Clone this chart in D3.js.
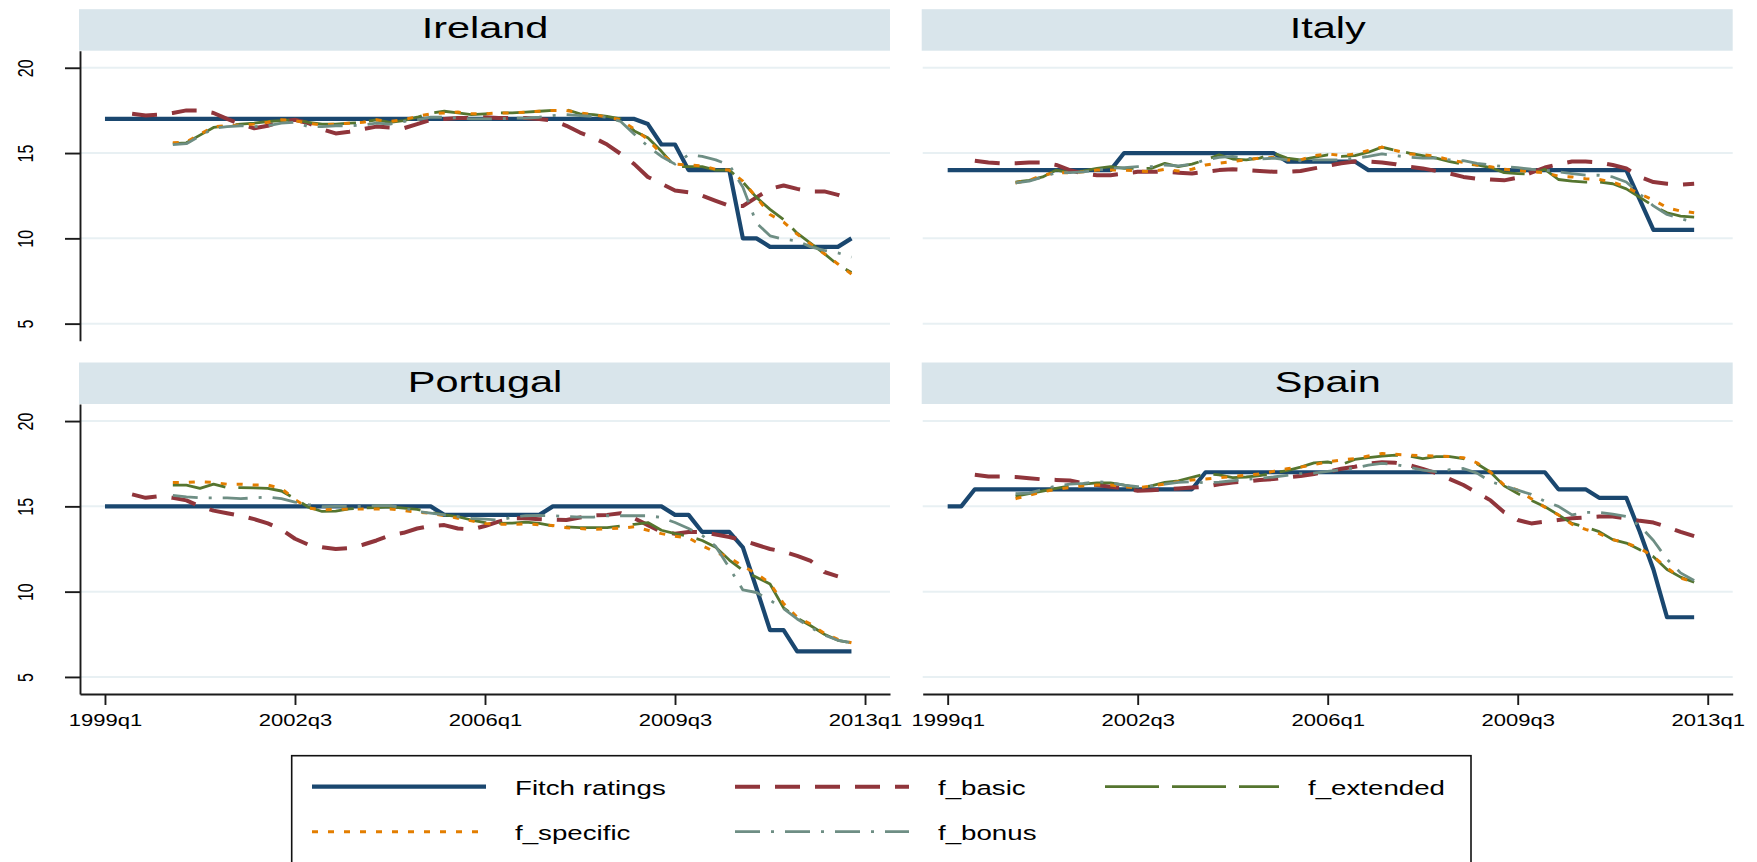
<!DOCTYPE html>
<html>
<head>
<meta charset="utf-8">
<script src="https://cdnjs.cloudflare.com/ajax/libs/d3/7.8.5/d3.min.js"></script>
<style>
  html, body { margin: 0; padding: 0; background: #ffffff; }
  svg { display: block; font-family: "Liberation Sans", Arial, Helvetica, sans-serif; }
</style>
</head>
<body>
<svg id="chart" width="1757" height="862"></svg>
<script>
// ---- data -------------------------------------------------------------
const countries = ["Ireland", "Italy", "Portugal", "Spain"];
const seriesNames = ["Fitch ratings", "f_basic", "f_extended", "f_specific", "f_bonus"];
// quarter index of each series' first observation (0 = 1999q1)
const seriesStart = [0, 2, 5, 5, 5];
const xTickQuarters = [0, 14, 28, 42, 56];
const xTickLabels = ["1999q1", "2002q3", "2006q1", "2009q3", "2013q1"];
const yTickValues = [5, 10, 15, 20];

const irelandFitch = [17, 17, 17, 17, 17, 17, 17, 17, 17, 17, 17, 17, 17, 17, 17, 17, 17, 17, 17, 17,
  17, 17, 17, 17, 17, 17, 17, 17, 17, 17, 17, 17, 17, 17, 17, 17, 17, 17, 17, 17,
  16.7, 15.5, 15.5, 14, 14, 14, 14, 10, 10, 9.5, 9.5, 9.5, 9.5, 9.5, 9.5, 10];
const irelandBasic = [17.3, 17.2, 17.25, 17.35, 17.5, 17.5, 17.35, 17.0, 16.7, 16.45, 16.6, 16.85, 16.95, 16.75,
  16.4, 16.15, 16.25, 16.4, 16.55, 16.5, 16.45, 16.7, 16.95, 17.0, 17.05, 17.05, 17.1, 17.05, 17.05, 17.05,
  17.0, 16.9, 16.6, 16.2, 15.9, 15.5, 14.95, 14.35, 13.6, 13.2, 12.8, 12.7, 12.5, 12.2, 11.9, 11.9, 12.4,
  12.9, 13.1, 12.9, 12.75, 12.75, 12.55, 12.25];
const irelandExtended = [15.55, 15.6, 16.05, 16.5, 16.6, 16.7, 16.75, 16.85, 16.9, 16.95, 16.8, 16.7, 16.7, 16.75,
  16.8, 16.95, 16.8, 16.9, 17.1, 17.35, 17.45, 17.35, 17.25, 17.3, 17.35, 17.35, 17.4, 17.45, 17.5, 17.55,
  17.3, 17.25, 17.15, 17.0, 16.3, 15.9, 15.1, 14.2, 14.2, 14.2, 14.0, 14.0, 13.3, 12.4, 11.7, 11.1, 10.3,
  9.7, 9.1, 8.45, 8.0];
const irelandSpecific = [15.6, 15.65, 16.1, 16.55, 16.6, 16.65, 16.7, 16.8, 16.95, 16.9, 16.75, 16.65, 16.7, 16.75,
  16.8, 16.95, 16.85, 16.95, 17.15, 17.3, 17.35, 17.4, 17.3, 17.3, 17.35, 17.35, 17.4, 17.45, 17.5, 17.5,
  17.35, 17.25, 17.1, 16.95, 16.4, 15.8, 14.95, 14.35, 14.3, 14.25, 14.05, 14.0, 13.35, 12.4, 11.4, 10.95,
  10.25, 9.65, 9.1, 8.5, 7.9];
const irelandBonus = [15.5, 15.55, 16.0, 16.45, 16.55, 16.6, 16.55, 16.6, 16.75, 16.8, 16.55, 16.55, 16.6, 16.6,
  16.65, 16.75, 16.7, 16.85, 16.95, 17.1, 17.1, 17.05, 17.0, 17.0, 17.0, 17.05, 17.05, 17.1, 17.2, 17.25,
  17.2, 17.15, 17.1, 16.85, 16.1, 15.4, 14.8, 14.35, 14.9, 14.8, 14.6, 14.3, 13.0, 10.9, 10.15, 9.95, 9.85,
  9.5, 9.3, 9.15, 8.9];

const italyFitch = [14, 14, 14, 14, 14, 14, 14, 14, 14, 14, 14, 14, 14,
  15, 15, 15, 15, 15, 15, 15, 15, 15, 15, 15, 15,
  14.5, 14.5, 14.5, 14.5, 14.5, 14.5,
  14, 14, 14, 14, 14, 14, 14, 14, 14, 14, 14, 14, 14, 14, 14, 14, 14, 14, 14, 14,
  12.25, 10.5, 10.5, 10.5, 10.5];
const italyBasic = [14.55, 14.45, 14.4, 14.4, 14.45, 14.45, 14.3, 14.0, 13.8, 13.7, 13.7, 13.8, 13.9, 13.9, 13.9,
  13.85, 13.8, 13.9, 14.0, 14.05, 14.0, 13.95, 13.9, 13.9, 13.95, 14.1, 14.25, 14.4, 14.5, 14.5, 14.45,
  14.35, 14.2, 14.1, 13.95, 13.8, 13.6, 13.5, 13.45, 13.4, 13.55, 13.85, 14.15, 14.35, 14.5, 14.5, 14.45,
  14.3, 14.1, 13.6, 13.3, 13.2, 13.15, 13.2];
const italyExtended = [13.3, 13.4, 13.6, 14.0, 13.85, 13.95, 14.1, 14.2, 14.1, 14.1, 14.1, 14.4, 14.2, 14.35,
  14.6, 14.9, 14.65, 14.6, 14.7, 15.0, 14.7, 14.6, 14.75, 14.9, 14.8, 14.85, 15.05, 15.35, 15.15, 15.0,
  14.85, 14.7, 14.5, 14.35, 14.3, 14.15, 13.85, 13.8, 13.75, 14.05, 13.45, 13.35, 13.3, 13.3, 13.2, 12.9,
  12.4, 11.9, 11.5, 11.3, 11.25];
const italySpecific = [13.25, 13.4, 13.7, 13.85, 13.85, 13.9, 14.0, 14.0, 14.0, 13.95, 13.9, 14.05, 13.95, 14.05,
  14.3, 14.4, 14.5, 14.6, 14.7, 14.75, 14.6, 14.6, 14.85, 14.95, 14.85, 14.95, 15.15, 15.35, 15.15, 14.95,
  14.9, 14.8, 14.6, 14.45, 14.3, 14.2, 14.05, 14.0, 13.9, 13.85, 13.65, 13.6, 13.5, 13.45, 13.3, 13.0,
  12.6, 12.25, 11.8, 11.6, 11.5];
const italyBonus = [13.25, 13.35, 13.6, 13.85, 13.85, 13.9, 14.0, 14.1, 14.15, 14.2, 14.2, 14.3, 14.25, 14.35,
  14.6, 14.75, 14.8, 14.7, 14.65, 14.7, 14.6, 14.55, 14.6, 14.6, 14.6, 14.7, 14.8, 14.95, 14.85, 14.75,
  14.7, 14.7, 14.6, 14.55, 14.4, 14.3, 14.2, 14.15, 14.05, 14.0, 13.9, 13.8, 13.7, 13.7, 13.6, 13.3,
  12.6, 11.9, 11.4, 11.15, 10.95];

const portugalFitch = [15, 15, 15, 15, 15, 15, 15, 15, 15, 15, 15, 15, 15, 15, 15, 15, 15, 15, 15, 15,
  15, 15, 15, 15, 15,
  14.5, 14.5, 14.5, 14.5, 14.5, 14.5, 14.5, 14.5,
  15, 15, 15, 15, 15, 15, 15, 15, 15,
  14.5, 14.5, 13.5, 13.5, 13.5, 12.6, 10.2, 7.75, 7.75, 6.5, 6.5, 6.5, 6.5, 6.5];
const portugalBasic = [15.7, 15.5, 15.6, 15.5, 15.35, 15.0, 14.75, 14.6, 14.45, 14.25, 14.0, 13.65, 13.1, 12.75,
  12.6, 12.5, 12.55, 12.75, 13.0, 13.3, 13.45, 13.7, 13.85, 13.9, 13.7, 13.65, 13.85, 14.1, 14.3, 14.3,
  14.25, 14.22, 14.2, 14.35, 14.47, 14.5, 14.6, 14.3, 13.9, 13.5, 13.4, 13.5, 13.5, 13.35, 13.2, 13.0,
  12.75, 12.5, 12.35, 12.1, 11.8, 11.15, 10.9];
const portugalExtended = [16.25, 16.25, 16.05, 16.3, 16.1, 16.1, 16.08, 16.05, 15.9, 15.45, 14.95, 14.7, 14.72,
  14.85, 14.9, 14.93, 14.97, 14.9, 14.82, 14.65, 14.5, 14.4, 14.2, 14.05, 14.0, 14.02, 14.08, 14.0, 13.85,
  13.8, 13.75, 13.75, 13.75, 13.85, 13.95, 14.05, 13.6, 13.4, 13.25, 13.0, 12.6, 11.85, 11.25, 10.85,
  10.45, 9.05, 8.45, 8.0, 7.5, 7.15, 7.0];
const portugalSpecific = [16.4, 16.4, 16.45, 16.4, 16.3, 16.3, 16.25, 16.25, 16.05, 15.4, 14.9, 14.8, 14.82,
  14.85, 14.85, 14.85, 14.85, 14.75, 14.65, 14.6, 14.45, 14.3, 14.15, 14.0, 13.95, 13.95, 13.97, 13.92,
  13.88, 13.75, 13.7, 13.65, 13.68, 13.72, 13.8, 13.6, 13.4, 13.25, 13.15, 12.7, 12.3, 12.0, 11.5, 11.05,
  10.5, 9.3, 8.5, 8.1, 7.55, 7.2, 7.0];
const portugalBonus = [15.65, 15.55, 15.5, 15.5, 15.5, 15.45, 15.5, 15.55, 15.45, 15.25, 15.1, 14.98, 15.0, 15.0,
  15.0, 15.05, 15.05, 14.9, 14.7, 14.6, 14.5, 14.4, 14.3, 14.25, 14.2, 14.35, 14.45, 14.47, 14.45, 14.4,
  14.37, 14.37, 14.45, 14.45, 14.45, 14.45, 14.35, 14.05, 13.7, 13.3, 12.65, 11.4, 10.1, 9.95, 9.5, 9.0,
  8.4, 7.9, 7.45, 7.15, 7.0];

const spainFitch = [15, 15,
  16, 16, 16, 16, 16, 16, 16, 16, 16, 16, 16, 16, 16, 16, 16, 16, 16,
  17, 17, 17, 17, 17, 17, 17, 17, 17, 17, 17, 17, 17, 17, 17, 17, 17, 17, 17, 17, 17, 17, 17, 17, 17, 17,
  16, 16, 16, 15.5, 15.5, 15.5, 13.5, 11.3, 8.5, 8.5, 8.5];
const spainBasic = [16.85, 16.75, 16.75, 16.72, 16.65, 16.58, 16.55, 16.52, 16.35, 16.25, 16.15, 16.05, 15.92,
  15.95, 16.0, 16.05, 16.1, 16.15, 16.3, 16.4, 16.45, 16.55, 16.6, 16.7, 16.78, 16.9, 17.03, 17.2, 17.32,
  17.5, 17.58, 17.55, 17.42, 17.2, 16.95, 16.6, 16.25, 15.8, 15.35, 14.65, 14.2, 14.0, 14.1, 14.2, 14.3,
  14.35, 14.4, 14.4, 14.3, 14.15, 14.05, 13.8, 13.5, 13.25];
const spainExtended = [15.6, 15.75, 15.9, 16.05, 16.2, 16.3, 16.38, 16.38, 16.25, 16.08, 16.2, 16.4, 16.5, 16.7,
  16.9, 16.85, 16.68, 16.72, 16.8, 16.95, 17.1, 17.3, 17.55, 17.6, 17.45, 17.75, 17.85, 17.95, 18.0, 17.95,
  17.8, 17.92, 17.92, 17.8, 17.5, 17.0, 16.2, 15.75, 15.35, 14.98, 14.5, 14.0, 13.78, 13.52, 13.05, 12.85,
  12.45, 12.05, 11.3, 10.85, 10.55];
const spainSpecific = [15.45, 15.65, 15.85, 16.0, 16.1, 16.2, 16.25, 16.25, 16.15, 16.08, 16.2, 16.3, 16.45, 16.55,
  16.6, 16.68, 16.75, 16.82, 16.9, 17.05, 17.2, 17.3, 17.45, 17.6, 17.72, 17.8, 17.95, 18.1, 18.05, 18.0,
  17.98, 17.95, 17.92, 17.85, 17.55, 17.0, 16.25, 15.95, 15.45, 14.95, 14.5, 13.95, 13.65, 13.4, 13.05,
  12.85, 12.55, 12.05, 11.4, 10.8, 10.55];
const spainBonus = [15.75, 15.78, 16.0, 16.2, 16.3, 16.35, 16.45, 16.38, 16.25, 16.15, 16.2, 16.3, 16.4, 16.45,
  16.38, 16.42, 16.5, 16.58, 16.65, 16.72, 16.82, 16.92, 16.95, 17.05, 17.15, 17.25, 17.42, 17.52, 17.45,
  17.3, 17.12, 17.03, 17.15, 17.22, 16.95, 16.45, 16.2, 15.95, 15.7, 15.3, 15.0, 14.5, 14.65, 14.65, 14.55,
  14.4, 13.85, 13.0, 11.9, 11.1, 10.65];

const seriesByCountry = {
  Ireland: [irelandFitch, irelandBasic, irelandExtended, irelandSpecific, irelandBonus],
  Italy: [italyFitch, italyBasic, italyExtended, italySpecific, italyBonus],
  Portugal: [portugalFitch, portugalBasic, portugalExtended, portugalSpecific, portugalBonus],
  Spain: [spainFitch, spainBasic, spainExtended, spainSpecific, spainBonus]
};

// ---- styles -------------------------------------------------------------
const seriesStyle = [
  { color: "#1a476f", width: 4.2, dash: null },
  { color: "#90353b", width: 4.0, dash: "25,15" },
  { color: "#55752f", width: 2.8, dash: "54,13" },
  { color: "#e37e00", width: 3.0, dash: "6,10" },
  { color: "#6e8e84", width: 2.8, dash: "25,11,3,11" }
];
const stripFill = "#d9e5eb";
const gridColor = "#e8f0f3";
const textStretch = { title: 1.43, tick: 1.35, legend: 1.42 };

// ---- layout -------------------------------------------------------------
const panelW = 810, plotH = 290, stripH = 41.5;
const colLeft = [80, 922.7];
const rowTop = [50.7, 404];

const x = d3.scaleLinear().domain([-1.84, 57.84]).range([0, panelW]);
const y = d3.scaleLinear().domain([4, 21]).range([plotH, 0]);

const svg = d3.select("#chart");
svg.append("rect").attr("width", 1757).attr("height", 862).attr("fill", "#ffffff");

const line = d3.line()
  .x(d => x(d.q))
  .y(d => y(d.v));

countries.forEach((country, k) => {
  const col = k % 2, row = Math.floor(k / 2);
  const g = svg.append("g")
    .attr("transform", `translate(${colLeft[col]},${rowTop[row]})`);

  // strip with the country name
  g.append("rect")
    .attr("x", -1).attr("y", -stripH)
    .attr("width", panelW + 1).attr("height", stripH)
    .attr("fill", stripFill);
  g.append("text")
    .attr("transform", `translate(${panelW / 2},${-stripH + 29}) scale(${textStretch.title},1)`)
    .attr("text-anchor", "middle")
    .attr("font-size", 29)
    .attr("fill", "#000")
    .text(country);

  // horizontal grid
  g.selectAll("line.grid")
    .data(yTickValues)
    .join("line")
    .attr("class", "grid")
    .attr("x1", 0).attr("x2", panelW)
    .attr("y1", d => y(d)).attr("y2", d => y(d))
    .attr("stroke", gridColor)
    .attr("stroke-width", 2);

  // y axis on the left-hand column
  if (col === 0) {
    const ya = g.append("g")
      .call(d3.axisLeft(y).tickValues(yTickValues).tickSize(15).tickSizeOuter(0))
      .attr("font-size", null).attr("font-family", null);
    ya.select(".domain").attr("stroke", "#1b1b1b").attr("stroke-width", 1.9);
    ya.selectAll(".tick line").attr("stroke", "#1b1b1b").attr("stroke-width", 1.9);
    ya.selectAll(".tick text")
      .attr("x", 0).attr("dy", 0)
      .attr("text-anchor", "middle")
      .attr("font-size", 16)
      .attr("fill", "#000")
      .attr("transform", `translate(-46.7,0) scale(${textStretch.tick},1) rotate(-90)`);
  }

  // x axis on the bottom row
  if (row === 1) {
    const xa = g.append("g")
      .attr("transform", `translate(0,${plotH})`)
      .call(d3.axisBottom(x).tickValues(xTickQuarters)
        .tickFormat((d, i) => xTickLabels[i]).tickSize(11).tickSizeOuter(0))
      .attr("font-size", null).attr("font-family", null);
    xa.select(".domain").attr("stroke", "#1b1b1b").attr("stroke-width", 1.9);
    xa.selectAll(".tick line").attr("stroke", "#1b1b1b").attr("stroke-width", 1.9);
    xa.selectAll(".tick text")
      .attr("y", 0).attr("dy", 0)
      .attr("font-size", 16.3)
      .attr("fill", "#000")
      .attr("transform", `translate(0,32) scale(${textStretch.tick},1)`);
  }

  // series lines
  const series = seriesByCountry[country].map((vals, s) => ({
    s,
    points: vals.map((v, j) => ({ q: seriesStart[s] + j, v }))
  }));
  g.selectAll("path.series")
    .data(series)
    .join("path")
    .attr("class", "series")
    .attr("d", d => line(d.points))
    .attr("fill", "none")
    .attr("stroke", d => seriesStyle[d.s].color)
    .attr("stroke-width", d => seriesStyle[d.s].width)
    .attr("stroke-dasharray", d => seriesStyle[d.s].dash)
    .attr("stroke-linejoin", "round")
    .attr("stroke-linecap", "butt");
});

// ---- legend -------------------------------------------------------------
const legendBox = { x: 291.7, y: 755.7, w: 1179.3, h: 160 };
const legendColX = [312, 735, 1105];
const legendRowY = [786.7, 831.7];
const legendSampleLen = 174, legendTextGap = 29;

const lg = svg.append("g");
lg.append("rect")
  .attr("x", legendBox.x).attr("y", legendBox.y)
  .attr("width", legendBox.w).attr("height", legendBox.h)
  .attr("fill", "#fff").attr("stroke", "#111").attr("stroke-width", 1.6);

const items = lg.selectAll("g.item")
  .data(seriesNames.map((name, s) => ({ name, s, row: s < 3 ? 0 : 1, col: s < 3 ? s : s - 3 })))
  .join("g")
  .attr("class", "item")
  .attr("transform", d => `translate(${legendColX[d.col]},${legendRowY[d.row]})`);

items.append("line")
  .attr("x1", 0).attr("x2", legendSampleLen)
  .attr("y1", 0).attr("y2", 0)
  .attr("stroke", d => seriesStyle[d.s].color)
  .attr("stroke-width", d => seriesStyle[d.s].s === 0 ? 4.2 : seriesStyle[d.s].width)
  .attr("stroke-dasharray", d => seriesStyle[d.s].dash);

items.append("text")
  .attr("transform", `translate(${legendSampleLen + legendTextGap},8.5) scale(${textStretch.legend},1)`)
  .attr("font-size", 19.5)
  .attr("fill", "#000")
  .text(d => d.name);
</script>
</body>
</html>
